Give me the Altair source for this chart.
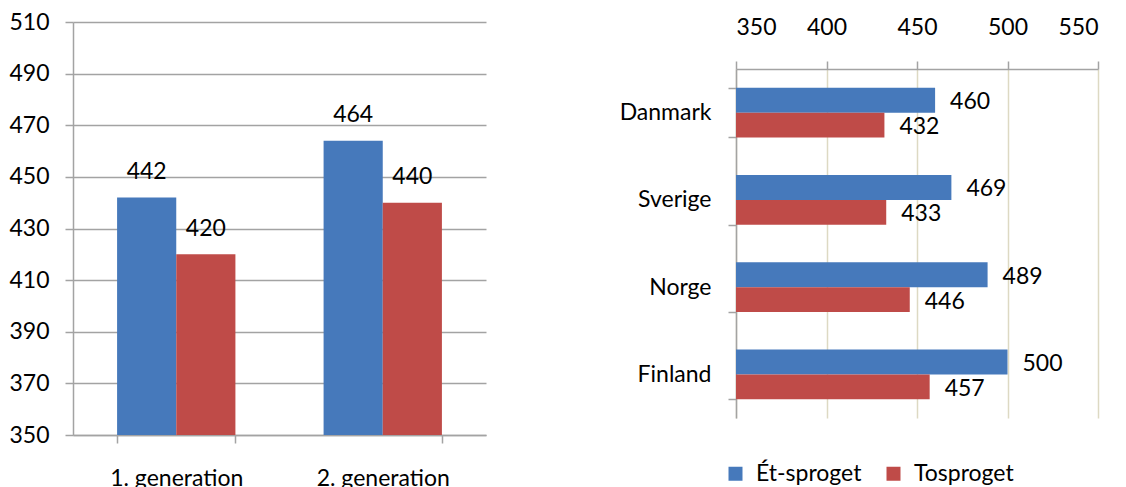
import altair as alt
import pandas as pd

series = ["Ét-sproget", "Tosproget"]
colors = ["#4679BB", "#BF4B48"]

gen_categories = ["1. generation", "2. generation"]
gen_et = [442, 464]
gen_to = [420, 440]

countries = ["Danmark", "Sverige", "Norge", "Finland"]
country_et = [460, 469, 489, 500]
country_to = [432, 433, 446, 457]

left_ticks = [350, 370, 390, 410, 430, 450, 470, 490, 510]
right_ticks = [350, 400, 450, 500, 550]

FONT = "Lato"
FS = 23
GRAY = "#A3A3A3"
BEIGE = "#DDD9C3"

left_df = pd.DataFrame({
    "cat": gen_categories * 2,
    "series": [series[0]] * len(gen_categories) + [series[1]] * len(gen_categories),
    "value": gen_et + gen_to,
})
right_df = pd.DataFrame({
    "country": countries * 2,
    "series": [series[0]] * len(countries) + [series[1]] * len(countries),
    "value": country_et + country_to,
})

# ---------- left panel ----------
lx = alt.X("cat:N", sort=gen_categories,
           scale=alt.Scale(paddingInner=0.427, paddingOuter=0.2135),
           axis=alt.Axis(title=None, labelAngle=0, labelPadding=24, tickBand="extent",
                         tickSize=8, grid=False))
ly = alt.Y("value:Q", scale=alt.Scale(domain=[350, 510], nice=False, zero=False),
           axis=alt.Axis(title=None, values=left_ticks, grid=True, gridColor=GRAY,
                         gridWidth=1.5, tickSize=8, labelPadding=16))
lxo = alt.XOffset("series:N", sort=series,
                  scale=alt.Scale(domain=series, paddingInner=0, paddingOuter=0))
lcolor = alt.Color("series:N", sort=series,
                   scale=alt.Scale(domain=series, range=colors), legend=None)

left_base = alt.Chart(left_df).encode(x=lx, y=ly, xOffset=lxo)
left_bars = left_base.mark_bar().encode(y2=alt.datum(350), color=lcolor)
left_text = left_base.mark_text(dy=-18.5, baseline="alphabetic", align="center",
                                font=FONT, fontSize=FS, color="black").encode(
    text=alt.Text("value:Q"))
left = alt.layer(left_bars, left_text).properties(width=413, height=413)

# ---------- right panel ----------
R_TOP = 47      # space inside the right panel reserved for its top axis
R_H = 396
rx = alt.X("value:Q", scale=alt.Scale(domain=[350, 550], nice=False, zero=False),
           axis=alt.Axis(title=None, orient="top", values=right_ticks, grid=True,
                         gridColor=BEIGE, gridWidth=1.5, tickSize=8, labelPadding=22,
                         offset=-R_TOP))
ry = alt.Y("country:N", sort=countries,
           scale=alt.Scale(paddingInner=0.43, paddingOuter=0.215, range=[R_TOP, R_H]),
           axis=alt.Axis(title=None, tickBand="extent", tickSize=8, labelPadding=17,
                         grid=False))
ryo = alt.YOffset("series:N", sort=series,
                  scale=alt.Scale(domain=series, paddingInner=0, paddingOuter=0))
rcolor = alt.Color("series:N", sort=series,
                   scale=alt.Scale(domain=series, range=colors),
                   legend=alt.Legend(title=None, orient="none", direction="horizontal",
                                     legendX=-12, legendY=440, symbolType="square",
                                     symbolSize=196, symbolStrokeWidth=0,
                                     labelOffset=9, columnPadding=20,
                                     labelFont=FONT, labelFontSize=FS,
                                     labelColor="black"))

right_base = alt.Chart(right_df).encode(x=rx, y=ry, yOffset=ryo)
right_bars = right_base.mark_bar().encode(x2=alt.datum(350), color=rcolor)
right_text = right_base.mark_text(dx=15, dy=2, align="left", baseline="middle",
                                  font=FONT, fontSize=FS, color="black").encode(
    text=alt.Text("value:Q"))
right = alt.layer(right_bars, right_text).properties(width=362, height=R_H)

chart = alt.hconcat(left, right, spacing=133).resolve_scale(
    color="independent"
).resolve_legend(
    color="independent"
).properties(
    background="white",
    padding={"left": 0, "top": 3, "right": 5, "bottom": 5}
).configure_view(
    stroke=None
).configure_axis(
    labelFont=FONT, labelFontSize=FS, labelColor="black",
    domainColor=GRAY, tickColor=GRAY, domainWidth=1.5, tickWidth=1.5
)

chart.save("out.html", embed_options={"renderer": "svg", "actions": False})
